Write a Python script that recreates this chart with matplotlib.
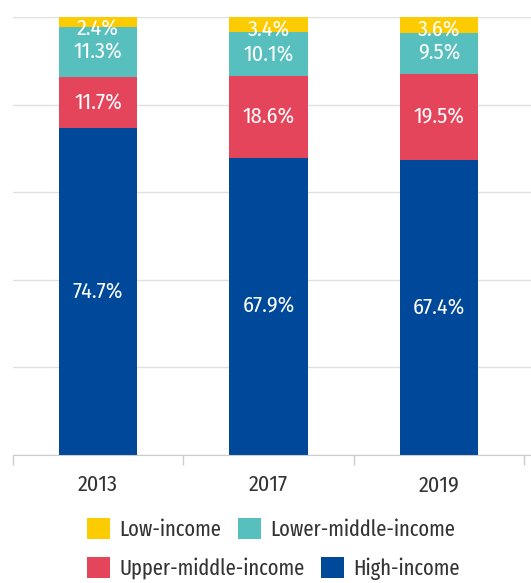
import matplotlib
matplotlib.use("Agg")
import matplotlib.pyplot as plt
from matplotlib.patches import Patch

plt.rcParams['font.family'] = ['Fira Sans Condensed', 'Roboto Condensed', 'DejaVu Sans']
fonte_legenda = ['Fira Sans Extra Condensed', 'Fira Sans Condensed', 'DejaVu Sans']

# dados (de baixo para cima)
anos = ["2013", "2017", "2019"]
grupos = ["High-income", "Upper-middle-income", "Lower-middle-income", "Low-income"]
high_income = [74.7, 67.9, 67.4]
upper_middle = [11.7, 18.6, 19.5]
lower_middle = [11.3, 10.1, 9.5]
low_income = [2.4, 3.4, 3.6]
series = [high_income, upper_middle, lower_middle, low_income]
cores = ["#00489a", "#e5455b", "#58bfbf", "#fccb00"]

W, H = 531, 583
fig = plt.figure(figsize=(W / 100, H / 100), dpi=100)
ax = fig.add_axes([12.7 / W, 1 - 455 / H, 1 - 12.7 / W, (455 - 17) / H])

x = list(range(len(anos)))
base = [0.0] * len(anos)
for k, (vals, cor) in enumerate(zip(series, cores)):
    bars = ax.bar(x, vals, bottom=base, width=0.46, color=cor, zorder=2)
    for i, b in enumerate(bars):
        if k == len(series) - 1:
            # ultimo segmento: rotulo encostado no topo
            ax.annotate(f"{vals[i]}%", (b.get_x() + b.get_width() / 2, b.get_y() + b.get_height()),
                        xytext=(0, -1), textcoords="offset points",
                        ha="center", va="top", color="white", fontsize=16, zorder=3)
        else:
            ax.text(b.get_x() + b.get_width() / 2, b.get_y() + b.get_height() / 2,
                    f"{vals[i]}%", ha="center", va="center", color="white", fontsize=16, zorder=3)
    base = [a + v for a, v in zip(base, vals)]

ax.set_ylim(0, 100)
largura_cat = (531 - 12.7) / 170.5
ax.set_xlim(-0.5, -0.5 + largura_cat)
ax.set_yticks([0, 20, 40, 60, 80, 100])
ax.yaxis.grid(True, color="#e0e0e0", linewidth=1, zorder=0)
ax.tick_params(axis="y", left=False, labelleft=False)

ax.set_xticks(x)
ax.set_xticklabels(anos, fontsize=16, color="#333333")
ax.set_xticks([-0.5, 0.5, 1.5, 2.5], minor=True)
ax.tick_params(axis="x", which="major", length=0, pad=14)
ax.tick_params(axis="x", which="minor", length=7, color="#cccccc", width=1)

for lado in ["top", "right", "left"]:
    ax.spines[lado].set_visible(False)
ax.spines["bottom"].set_color("#cccccc")

# legenda em duas linhas independentes
linhas_legenda = [[3, 2], [1, 0]]
topos = [518, 557]
for idx, topo in zip(linhas_legenda, topos):
    handles = [Patch(facecolor=cores[k], label=grupos[k]) for k in idx]
    fig.legend(handles=handles, ncol=2, loc="upper left", bbox_to_anchor=(87 / W, 1 - topo / H),
               frameon=False, prop={'family': fonte_legenda, 'size': 16},
               handlelength=1.05, handleheight=1.05,
               handletextpad=0.4, columnspacing=0.75,
               labelcolor="#333333", borderaxespad=0, borderpad=0)

plt.savefig("out.png", dpi=100)
